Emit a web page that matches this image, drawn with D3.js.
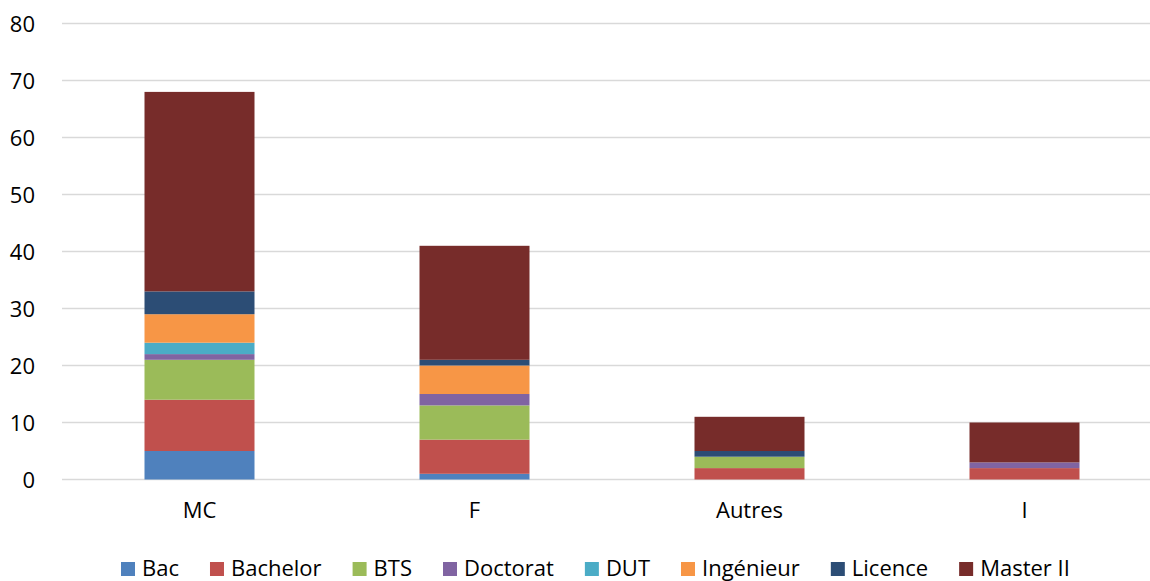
<!DOCTYPE html>
<html>
<head>
<meta charset="utf-8">
<script src="https://cdn.jsdelivr.net/npm/d3@7"></script>
<style>
  html, body { margin: 0; padding: 0; background: #fff; }
  svg { display: block; font-family: "Open Sans", Lato, sans-serif; }
</style>
</head>
<body>
<svg id="chart" width="1150" height="581"></svg>
<script>
const categories = ["MC", "F", "Autres", "I"];
const seriesNames = ["Bac", "Bachelor", "BTS", "Doctorat", "DUT", "Ingénieur", "Licence", "Master II"];
const bac       = [5, 1, 0, 0];
const bachelor  = [9, 6, 2, 2];
const bts       = [7, 6, 2, 0];
const doctorat  = [1, 2, 0, 1];
const dut       = [2, 0, 0, 0];
const ingenieur = [5, 5, 0, 0];
const licence   = [4, 1, 1, 0];
const master2   = [35, 20, 6, 7];
const yTicks = [0, 10, 20, 30, 40, 50, 60, 70, 80];
const colors = ["#4F81BD", "#C0504D", "#9BBB59", "#8064A2", "#4BACC6", "#F79646", "#2C4D75", "#772C2A"];

const FONT = "'Open Sans', Lato, sans-serif";
const FS = 22;

const seriesValues = [bac, bachelor, bts, doctorat, dut, ingenieur, licence, master2];
const table = categories.map((c, i) => {
  const row = { cat: c };
  seriesNames.forEach((s, j) => row[s] = seriesValues[j][i]);
  return row;
});

const svg = d3.select("#chart");
const x = d3.scaleBand().domain(categories).range([62, 1162]).paddingInner(0.6).paddingOuter(0.3);
const y = d3.scaleLinear().domain([0, 80]).range([479.5, 23.5]);

// gridlines
svg.append("g").selectAll("line").data(yTicks).join("line")
  .attr("x1", 62).attr("x2", 1150)
  .attr("y1", d => y(d)).attr("y2", d => y(d))
  .attr("stroke", "#D9D9D9").attr("stroke-width", 1.3);

// y axis labels
const yAxis = d3.axisLeft(y).tickValues(yTicks).tickSize(0).tickPadding(0);
const yg = svg.append("g").attr("transform", "translate(35,0)").call(yAxis);
yg.select(".domain").remove();
yg.selectAll("text").attr("font-size", FS).attr("fill", "#000").attr("font-family", FONT).attr("dy", "0.36em");

// stacked bars
const stack = d3.stack().keys(seriesNames);
const layers = stack(table);
svg.append("g").selectAll("g").data(layers).join("g")
  .attr("fill", (d, i) => colors[i])
  .selectAll("rect").data(d => d).join("rect")
  .attr("x", d => x(d.data.cat))
  .attr("width", x.bandwidth())
  .attr("y", d => y(d[1]))
  .attr("height", d => y(d[0]) - y(d[1]));

// x axis labels
const xAxis = d3.axisBottom(x).tickSize(0).tickPadding(0);
const xg = svg.append("g").attr("transform", "translate(0,502)").call(xAxis);
xg.select(".domain").remove();
xg.selectAll("text").attr("font-size", FS).attr("fill", "#000").attr("font-family", FONT).attr("dy", "0.71em");

// legend
const legend = svg.append("g");
let lx = 121;
seriesNames.forEach((s, i) => {
  legend.append("rect").attr("x", lx).attr("y", 562).attr("width", 14).attr("height", 14).attr("fill", colors[i]);
  const t = legend.append("text").attr("x", lx + 21).attr("y", 576).attr("font-size", FS).attr("font-family", FONT).attr("fill", "#000").text(s);
  lx += 21 + t.node().getComputedTextLength() + 31;
});
</script>
</body>
</html>
